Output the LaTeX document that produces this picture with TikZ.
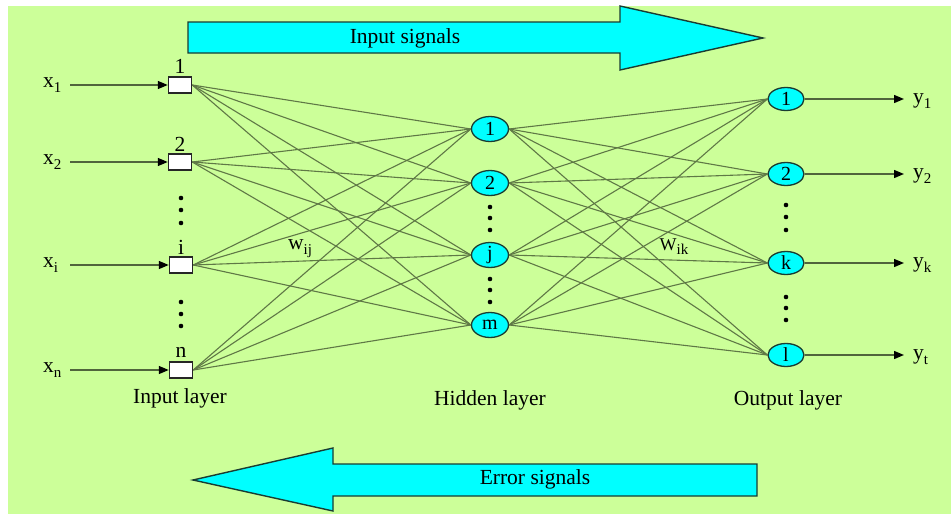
\documentclass[tikz,border=0pt]{standalone}
\usepackage{fontspec}
\setmainfont{Liberation Serif}
\usetikzlibrary{arrows.meta,shapes.geometric}
\definecolor{bgc}{RGB}{204,255,153}
\definecolor{cy}{RGB}{0,255,255}
\definecolor{edgec}{RGB}{95,120,70}
\definecolor{inline}{RGB}{80,100,60}
\definecolor{bord}{RGB}{25,60,50}
\newcommand{\mysub}[1]{\raisebox{-0.22em}{\fontsize{15}{15}\selectfont #1}}
\begin{document}
\begin{tikzpicture}[x=1pt,y=-1pt,
  txt/.style={font=\fontsize{21.5}{25}\selectfont, inner sep=0pt, text=black},
  inbox/.style={draw=black!85, fill=white, line width=1.5pt, minimum width=23pt, minimum height=16pt, inner sep=0pt},
  neuron/.style={shape=ellipse, draw=bord, fill=cy, line width=1.3pt, minimum width=37pt, minimum height=25pt, inner sep=0pt, font=\fontsize{20}{20}\selectfont},
  oneuron/.style={neuron, minimum width=36pt, minimum height=23pt},
  conn/.style={draw=edgec, line width=1.1pt},
  inarrow/.style={draw=inline, line width=1.4pt, -{Triangle[length=10pt,width=8pt,color=black]}},
  bigarrow/.style={fill=cy, draw=bord, line width=1.4pt, line join=miter},
  vdot/.style={fill=black}
]
\useasboundingbox (0,0) rectangle (951,514);
\fill[white] (0,0) rectangle (951,514);
\fill[bgc] (8,6) rectangle (951,514);

% big arrows
\draw[bigarrow] (188,22) -- (620,22) -- (620,6) -- (763,38) -- (620,70) -- (620,53) -- (188,53) -- cycle;
\node[txt] (insig) at (405,38) {Input signals};
\draw[bigarrow] (757,464) -- (333,464) -- (333,448) -- (193,480) -- (333,511) -- (333,496) -- (757,496) -- cycle;
\node[txt] (errsig) at (535,479) {Error signals};

% input layer
\node[inbox] (in1) at (180,85) {};
\node[inbox] (in2) at (180,162) {};
\node[inbox] (ini) at (181,265) {};
\node[inbox] (inn) at (181,370) {};
\node[txt] (l1) at (180,66) {1};
\node[txt] (l2) at (180,144) {2};
\node[txt] (li) at (181,247) {i};
\node[txt] (ln) at (181,352) {n};

% hidden layer
\node[neuron] (h1) at (490,129) {1};
\node[neuron] (h2) at (490,183) {2};
\node[neuron] (hj) at (490,255) {j};
\node[neuron] (hm) at (490,325) {m};

% output layer
\node[oneuron] (o1) at (786,99) {1};
\node[oneuron] (o2) at (786,174) {2};
\node[oneuron] (ok) at (786,263) {k};
\node[oneuron] (ol) at (786,355) {l};

% connections
\foreach \a in {in1,in2,ini,inn}
  \foreach \b in {h1,h2,hj,hm}
    \draw[conn] (\a.east) -- (\b.west);
\foreach \a in {h1,h2,hj,hm}
  \foreach \b in {o1,o2,ok,ol}
    \draw[conn] (\a.east) -- (\b.west);

% dots
\foreach \y in {198,210,223,302,314,326} \fill[vdot] (181,\y) circle (2.3pt);
\foreach \y in {207,218,230,279,290,302} \fill[vdot] (490,\y) circle (2.3pt);
\foreach \y in {205,217,230,297,308,320} \fill[vdot] (786,\y) circle (2.3pt);

% inputs
\node[txt, anchor=west] (x1) at (43,85) {x\mysub{1}};
\node[txt, anchor=west] (x2) at (43,162) {x\mysub{2}};
\node[txt, anchor=west] (xi) at (43,265) {x\mysub{i}};
\node[txt, anchor=west] (xn) at (43,370) {x\mysub{n}};
\coordinate (a1) at (70,85);
\coordinate (a2) at (70,162);
\coordinate (ai) at (70,265);
\coordinate (an) at (70,370);
\draw[inarrow] (a1) -- (in1.west);
\draw[inarrow] (a2) -- (in2.west);
\draw[inarrow] (ai) -- (ini.west);
\draw[inarrow] (an) -- (inn.west);

% outputs
\coordinate (b1) at (904,99);
\coordinate (b2) at (904,174);
\coordinate (bk) at (904,263);
\coordinate (bl) at (904,355);
\draw[inarrow] (o1.east) -- (b1);
\draw[inarrow] (o2.east) -- (b2);
\draw[inarrow] (ok.east) -- (bk);
\draw[inarrow] (ol.east) -- (bl);
\node[txt, anchor=west] (y1) at (913,101) {y\mysub{1}};
\node[txt, anchor=west] (y2) at (913,176) {y\mysub{2}};
\node[txt, anchor=west] (yk) at (913,265) {y\mysub{k}};
\node[txt, anchor=west] (yt) at (913,357) {y\mysub{t}};

% weights
\node[txt] (wij) at (300,249) {w\mysub{ij}};
\node[txt, font=\fontsize{18}{20}\selectfont] (wik) at (674,247) {W\mysub{ik}};

% layer labels
\node[txt] (il) at (180,398) {Input layer};
\node[txt] (hl) at (490,400) {Hidden layer};
\node[txt] (ol2) at (788,400) {Output layer};
\end{tikzpicture}
\end{document}
